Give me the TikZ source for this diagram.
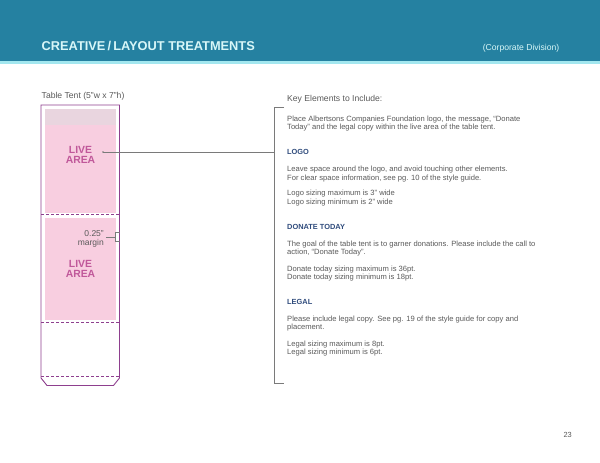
\documentclass[tikz,border=0pt]{standalone}
\usepackage{fontspec}
\setmainfont{Liberation Sans}
\definecolor{hdr}{HTML}{2581A1}
\definecolor{hdrline}{HTML}{A3E7EF}
\definecolor{titlec}{HTML}{D8F7F8}
\definecolor{tent}{HTML}{8E3F8E}
\definecolor{pinkfill}{HTML}{F8CEE0}
\definecolor{topband}{HTML}{E9D5DF}
\definecolor{livec}{HTML}{C0589A}
\definecolor{bodyc}{HTML}{5A5A5A}
\definecolor{headc}{HTML}{2F4B7C}
\definecolor{bracketc}{HTML}{7A7A7A}
\tikzset{
  body/.style={anchor=base west, inner sep=0pt, text=bodyc, font=\fontsize{7.6}{8.6}\selectfont},
  headtxt/.style={anchor=base west, inner sep=0pt, text=headc, font=\fontsize{7.4}{8.6}\selectfont\bfseries},
  livetxt/.style={anchor=base, inner sep=0pt, text=livec, font=\fontsize{10.4}{12}\selectfont\bfseries},
  margintxt/.style={anchor=base east, inner sep=0pt, text=bodyc, font=\fontsize{8.5}{9}\selectfont},
  tentline/.style={draw=tent, line width=0.9pt},
  dashline/.style={draw=tent, line width=0.8pt, dashed, dash pattern=on 3pt off 2pt},
  bracketline/.style={draw=bracketc, line width=0.6pt}
}
\begin{document}
\begin{tikzpicture}[x=1pt,y=-1pt]
\useasboundingbox (0,0) rectangle (600,463);
\fill[white] (0,0) rectangle (600,463);
% header
\fill[hdr] (0,0) rectangle (600,61);
\fill[hdrline] (0,61) rectangle (600,63.5);
\node[anchor=base west, inner sep=0pt, text=titlec, font=\fontsize{12.8}{15}\selectfont\bfseries] (title) at (41.5,50.5) {CREATIVE\,/\,LAYOUT TREATMENTS};
\node[anchor=base east, inner sep=0pt, text=titlec, font=\fontsize{8.6}{10}\selectfont] (division) at (559.5,50.5) {(Corporate Division)};
% table tent
\node[anchor=base west, inner sep=0pt, text=bodyc, font=\fontsize{8.6}{10}\selectfont] (tentlabel) at (41.5,98.5) {Table Tent (5"w x 7"h)};
\fill[pinkfill] (45,109) rectangle (116,212.5);
\fill[topband] (45,109) rectangle (116,124.5);
\fill[pinkfill] (45,217.5) rectangle (116,320);
\draw[tentline] (41,105) -- (119.5,105) -- (119.5,378) -- (113.5,385.5) -- (47,385.5) -- (41,378) -- cycle;
\draw[dashline] (41,214.5) -- (119.5,214.5);
\draw[dashline] (41,322.5) -- (119.5,322.5);
\draw[dashline] (41,376) -- (119.5,376);
\node[livetxt] (live1a) at (80.5,153) {LIVE};
\node[livetxt] (live1b) at (80.5,163.5) {AREA};
\node[livetxt] (live2a) at (80.5,267) {LIVE};
\node[livetxt] (live2b) at (80.5,277.5) {AREA};
\node[margintxt] (m1) at (104,236) {0.25"};
\node[margintxt] (m2) at (104,245.5) {margin};
% margin bracket
\coordinate (mb1) at (115.5,232);
\coordinate (mb2) at (115.5,241.5);
\draw[bracketline] (119.5,232) -- (mb1) -- (mb2) -- (119.5,241.5);
\coordinate (ml) at (106,236.8);
\draw[bracketline] (ml) -- (115.5,236.8);
% right bracket
\coordinate (bt) at (274,107);
\coordinate (bb) at (274,383);
\draw[bracketline, line width=0.8pt] (284,107) -- (bt) -- (bb) -- (284,383);
\coordinate (dot) at (103,152);
\fill[bracketc] (dot) circle (0.9pt);
\draw[bracketline] (dot) -- (274,152);
% right column text
\node[anchor=base west, inner sep=0pt, text=bodyc, font=\fontsize{8.6}{10}\selectfont] (key) at (287,101) {Key Elements to Include:};
\node[body] (p1) at (287,121) {Place Albertsons Companies Foundation logo, the message, “Donate};
\node[body] (p2) at (287,129.5) {Today” and the legal copy within the live area of the table tent.};
\node[headtxt] (logo) at (287,154.5) {LOGO};
\node[body] (l1) at (287,171.5) {Leave space around the logo, and avoid touching other elements.};
\node[body] (l2) at (287,180) {For clear space information, see pg. 10 of the style guide.};
\node[body] (l3) at (287,195.5) {Logo sizing maximum is 3" wide};
\node[body] (l4) at (287,204) {Logo sizing minimum is 2" wide};
\node[headtxt] (donate) at (287,229.5) {DONATE TODAY};
\node[body] (d1) at (287,246) {The goal of the table tent is to garner donations. Please include the call to};
\node[body] (d2) at (287,254.5) {action, “Donate Today”.};
\node[body] (d3) at (287,271) {Donate today sizing maximum is 36pt.};
\node[body] (d4) at (287,279.5) {Donate today sizing minimum is 18pt.};
\node[headtxt] (legal) at (287,304.5) {LEGAL};
\node[body] (g1) at (287,321) {Please include legal copy. See pg. 19 of the style guide for copy and};
\node[body] (g2) at (287,329.5) {placement.};
\node[body] (g3) at (287,346) {Legal sizing maximum is 8pt.};
\node[body] (g4) at (287,354.5) {Legal sizing minimum is 6pt.};
\node[anchor=base east, inner sep=0pt, text=bodyc, font=\fontsize{7.4}{9}\selectfont] (page) at (572,437) {23};
\end{tikzpicture}
\end{document}
